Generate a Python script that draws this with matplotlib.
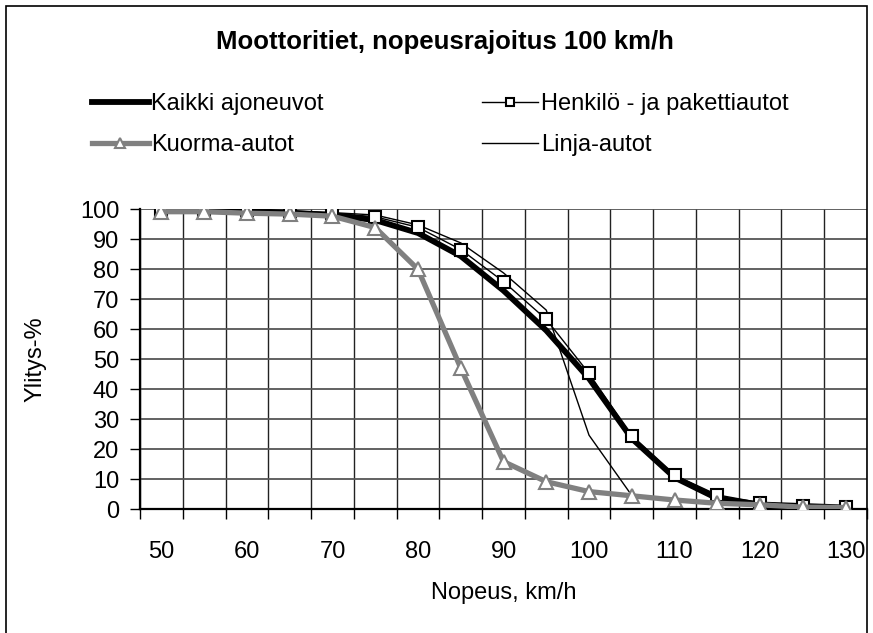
import matplotlib
matplotlib.use('Agg')
import matplotlib.pyplot as plt
from matplotlib.patches import Rectangle
import numpy as np

plt.rcParams['font.family'] = ['Liberation Sans', 'DejaVu Sans']

# nopeus, km/h
nopeus = [50, 55, 60, 65, 70, 75, 80, 85, 90, 95, 100, 105, 110, 115, 120, 125, 130]

# ylitys-% eri ajoneuvoryhmille
kaikki = [99.5, 99.5, 99.3, 98.8, 98.0, 96.3, 92.0, 84.3, 72.8, 59.5, 43.5, 23.5, 10.5, 3.5, 1.5, 1.0, 0.5]
henkilo = [99.7, 99.7, 99.6, 99.2, 98.6, 97.4, 93.9, 86.5, 75.8, 63.2, 45.2, 24.3, 11.3, 4.7, 2.1, 1.1, 0.8]
kuorma = [99.1, 99.1, 98.6, 98.3, 97.6, 93.8, 79.9, 47.0, 15.8, 9.1, 5.8, 4.4, 3.0, 1.9, 1.4, 0.6, 0.5]
linja = [99.6, 99.6, 99.5, 99.3, 98.8, 98.0, 94.7, 88.7, 78.7, 66.3, 24.6, 4.5, 3.0, 1.5, 1.0, 0.5, 0.3]

x_labels = [50, 60, 70, 80, 90, 100, 110, 120, 130]

W, H = 873, 633
fig = plt.figure(figsize=(W / 100, H / 100), dpi=100)
ax = fig.add_axes([140 / W, 1 - 509 / H, (867 - 140) / W, 300 / H])

l1, = ax.plot(nopeus, kaikki, color='black', linewidth=4.2, solid_joinstyle='round', zorder=3)
l4, = ax.plot(nopeus, linja, color='black', linewidth=1.0, zorder=4)
l2, = ax.plot(nopeus, henkilo, color='black', linewidth=1.0, marker='s', markersize=8,
              markerfacecolor='white', markeredgecolor='black', markeredgewidth=1.5, zorder=5)
l3, = ax.plot(nopeus, kuorma, color='#808080', linewidth=3.8, solid_joinstyle='round',
              marker='^', markersize=10, markerfacecolor='white', markeredgecolor='#808080',
              markeredgewidth=1.5, zorder=6)

ax.set_xlim(47.5, 132.5)
ax.set_ylim(0, 100)
ax.set_xticks(x_labels)
ax.set_xticklabels([str(v) for v in x_labels])
ax.set_xticks(np.arange(47.5, 133, 5), minor=True)
ax.set_yticks(np.arange(0, 101, 10))

ax.tick_params(axis='x', which='major', length=0, pad=23, labelsize=17)
ax.tick_params(axis='x', which='minor', length=7, width=1, direction='out')
ax.tick_params(axis='y', length=7, width=1, pad=8, labelsize=17)

ax.grid(False)
ax.grid(True, axis='x', which='minor', color='#222222', linewidth=1.0)
ax.grid(True, axis='y', which='major', color='#555555', linewidth=1.3)
ax.set_axisbelow(True)

for s in ['top', 'right']:
    ax.spines[s].set_visible(False)
ax.spines['left'].set_linewidth(1.6)
ax.spines['bottom'].set_linewidth(1.6)

ax.set_xlabel('Nopeus, km/h', fontsize=17, labelpad=14)
ax.set_ylabel('Ylitys-%', fontsize=17, labelpad=24)

fig.text(445 / W, 1 - 42 / H, 'Moottoritiet, nopeusrajoitus 100 km/h',
         fontsize=18.5, fontweight='bold', ha='center', va='center')

fig.legend([l1, l3, l2, l4],
           ['Kaikki ajoneuvot', 'Kuorma-autot', 'Henkilö - ja pakettiautot', 'Linja-autot'],
           ncol=2, loc='upper left', bbox_to_anchor=(92 / W, 1 - 93 / H),
           frameon=False, fontsize=17, handlelength=2.4, handletextpad=0.1,
           columnspacing=6.7, labelspacing=0.8, borderpad=0, borderaxespad=0,
           markerscale=0.7)

fig.add_artist(Rectangle((6 / W, -0.01), (867 - 6) / W, 1.01 - 6 / H,
                         transform=fig.transFigure, fill=False, edgecolor='black', linewidth=1.2))

plt.savefig('out.png', dpi=100)
